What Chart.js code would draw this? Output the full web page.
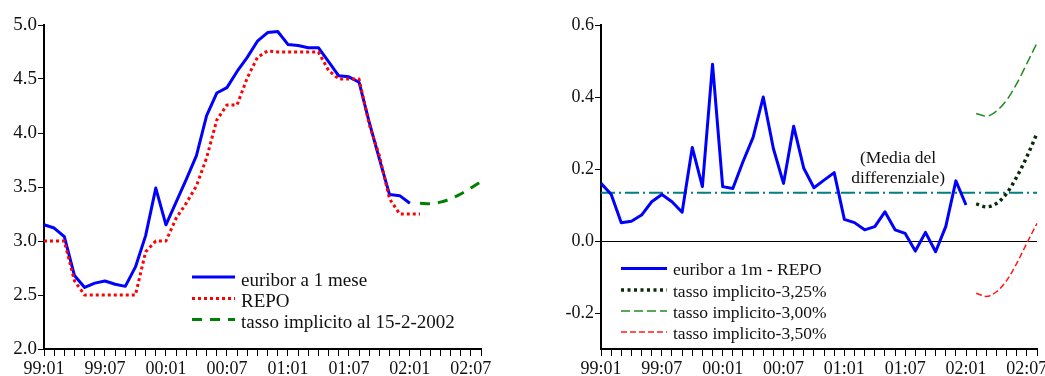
<!DOCTYPE html>
<html>
<head>
<meta charset="utf-8">
<script src="https://cdn.jsdelivr.net/npm/chart.js@4.4.1/dist/chart.umd.min.js"></script>
<style>
  html, body { margin: 0; padding: 0; background: #fff; }
  #wrap { position: relative; width: 1045px; height: 376px; overflow: hidden; background: #fff; }
  #wrap canvas { position: absolute; left: 0; top: 0; }
</style>
</head>
<body>
<div id="wrap">
  <canvas id="rates" width="1045" height="376"></canvas>
  <canvas id="spread" width="1045" height="376"></canvas>
</div>
<script>
// Monthly categories, 99:01 .. 02:08
const months = [
  '99:01','99:02','99:03','99:04','99:05','99:06','99:07','99:08','99:09','99:10','99:11','99:12',
  '00:01','00:02','00:03','00:04','00:05','00:06','00:07','00:08','00:09','00:10','00:11','00:12',
  '01:01','01:02','01:03','01:04','01:05','01:06','01:07','01:08','01:09','01:10','01:11','01:12',
  '02:01','02:02','02:03','02:04','02:05','02:06','02:07','02:08'
];
const tickLabels = ['99:01','99:07','00:01','00:07','01:01','01:07','02:01','02:07'];

// Left panel: rates (%), euribor 99:01 .. 02:01, REPO 99:01 .. 02:02
const euribor1m = [3.15, 3.12, 3.04, 2.68, 2.57, 2.61, 2.63, 2.60, 2.58, 2.76, 3.05, 3.49,
                   3.15, 3.36, 3.57, 3.79, 4.16, 4.37, 4.42, 4.57, 4.70, 4.85, 4.93, 4.94,
                   4.82, 4.81, 4.79, 4.79, 4.66, 4.53, 4.52, 4.47, 4.10, 3.76, 3.43, 3.42,
                   3.35];
const repo      = [3.00, 3.00, 3.00, 2.63, 2.50, 2.50, 2.50, 2.50, 2.50, 2.50, 2.90, 3.00,
                   3.00, 3.21, 3.35, 3.51, 3.77, 4.12, 4.26, 4.26, 4.51, 4.70, 4.76, 4.75,
                   4.75, 4.75, 4.75, 4.75, 4.58, 4.50, 4.50, 4.50, 4.08, 3.79, 3.39, 3.25,
                   3.25, 3.25];
// Implied rate as of 15-2-2002, 02:02 .. 02:08
const forwardStart = 37;
const impliedRate = [3.35, 3.345, 3.36, 3.39, 3.435, 3.49, 3.55];

// Right panel: spreads (percentage points)
const spreadEuriborRepo = [0.160, 0.130, 0.051, 0.055, 0.072, 0.109, 0.129, 0.109, 0.080, 0.260, 0.151, 0.491,
                           0.151, 0.146, 0.220, 0.288, 0.400, 0.257, 0.160, 0.319, 0.202, 0.148, 0.169, 0.190,
                           0.060, 0.051, 0.031, 0.040, 0.081, 0.031, 0.021, -0.028, 0.024, -0.030, 0.040, 0.167,
                           0.100];
const spreadImplied325 = [0.103, 0.095, 0.104, 0.132, 0.178, 0.234, 0.299];
const spreadImplied300 = [0.354, 0.347, 0.361, 0.391, 0.437, 0.493, 0.550];
const spreadImplied350 = [-0.145, -0.154, -0.141, -0.110, -0.062, -0.006, 0.049];
const spreadMean = 0.134;

const rateTicks = [2.0, 2.5, 3.0, 3.5, 4.0, 4.5, 5.0];
const spreadTicks = [-0.2, 0.0, 0.2, 0.4, 0.6];

// ---------------------------------------------------------------------------
const SERIF = "'Liberation Serif', 'Times New Roman', serif";
const INK = '#111';

function placed(values, start) {
  const out = months.map(() => null);
  values.forEach((v, k) => { out[start + k] = v; });
  return out;
}

function xAxis() {
  return {
    type: 'category',
    offset: false,
    afterFit(scale) { scale.height = 27; },
    border: { display: true, color: '#000', width: 2 },
    grid: { display: true, drawOnChartArea: false, drawTicks: true, tickLength: 7, color: '#000', tickColor: '#000', lineWidth: 1 },
    ticks: {
      autoSkip: false, maxRotation: 0, minRotation: 0, padding: 2,
      color: INK, font: { family: SERIF, size: 18 },
      callback(value, index) { return index % 6 === 0 ? tickLabels[index / 6] : ''; }
    }
  };
}

// Line key drawn inside the plot from each dataset's own stroke style
const lineKey = {
  id: 'lineKey',
  afterDraw(chart, args, opts) {
    const ctx = chart.ctx;
    ctx.save();
    ctx.font = opts.font;
    ctx.fillStyle = INK;
    ctx.textBaseline = 'alphabetic';
    ctx.textAlign = 'left';
    let row = 0;
    chart.data.datasets.forEach(ds => {
      if (!ds.label) return;
      const y = opts.rows[row++];
      ctx.strokeStyle = ds.borderColor;
      ctx.lineWidth = ds.borderWidth;
      ctx.lineCap = 'butt';
      ctx.setLineDash(ds.borderDash || []);
      ctx.beginPath();
      ctx.moveTo(opts.x0, y);
      ctx.lineTo(opts.x1, y);
      ctx.stroke();
      ctx.setLineDash([]);
      ctx.fillText(ds.label, opts.textX, y + opts.baseline);
    });
    ctx.restore();
  }
};

// Caption placed at a data position
const caption = {
  id: 'caption',
  afterDraw(chart, args, opts) {
    if (!opts.lines) return;
    const ctx = chart.ctx;
    const x = chart.scales.x.getPixelForValue(opts.at[0]);
    const y = chart.scales.y.getPixelForValue(opts.at[1]);
    ctx.save();
    ctx.font = opts.font;
    ctx.fillStyle = INK;
    ctx.textAlign = 'center';
    ctx.textBaseline = 'middle';
    opts.lines.forEach((t, k) => ctx.fillText(t, x, y + (k - (opts.lines.length - 1) / 2) * opts.lineHeight));
    ctx.restore();
  }
};

Chart.register(lineKey, caption);

const common = {
  responsive: false,
  animation: false,
  devicePixelRatio: 1,
  events: [],
  elements: { point: { radius: 0 }, line: { borderCapStyle: 'butt', borderJoinStyle: 'round' } }
};

// Left panel
new Chart(document.getElementById('rates'), {
  type: 'line',
  data: {
    labels: months,
    datasets: [
      { label: 'euribor a 1 mese', data: placed(euribor1m, 0), borderColor: '#0000ff', borderWidth: 3, order: 2, tension: 0 },
      { label: 'REPO', data: placed(repo, 0), borderColor: '#ff0000', borderWidth: 3, borderDash: [3, 3], order: 1, tension: 0 },
      { label: 'tasso implicito al 15-2-2002', data: placed(impliedRate, forwardStart), borderColor: '#008000', borderWidth: 3, borderDash: [10, 8], order: 0, cubicInterpolationMode: 'monotone' }
    ]
  },
  options: Object.assign({}, common, {
    layout: { padding: { top: 25, right: 1045 - 481, bottom: 0, left: 0 } },
    scales: {
      x: xAxis(),
      y: {
        min: 2, max: 5,
        afterFit(scale) { scale.width = 44; },
        afterBuildTicks(scale) { scale.ticks = rateTicks.map(v => ({ value: v })); },
        border: { display: true, color: '#000', width: 2 },
        grid: { display: true, drawOnChartArea: false, drawTicks: true, tickLength: 6, color: '#000', tickColor: '#000', lineWidth: 1 },
        ticks: { padding: 1, color: INK, font: { family: SERIF, size: 19 }, callback: v => Number(v).toFixed(1) }
      }
    },
    plugins: {
      legend: { display: false },
      tooltip: { enabled: false },
      lineKey: { font: `19px ${SERIF}`, x0: 192, x1: 235, textX: 241, rows: [277, 298.5, 319.5], baseline: 8.5 },
      caption: {}
    }
  })
});

// Right panel
new Chart(document.getElementById('spread'), {
  type: 'line',
  data: {
    labels: months,
    datasets: [
      { label: 'euribor a 1m - REPO', data: placed(spreadEuriborRepo, 0), borderColor: '#0000ff', borderWidth: 3, order: 0, tension: 0 },
      { label: 'tasso implicito-3,25%', data: placed(spreadImplied325, forwardStart), borderColor: '#0a2a0a', borderWidth: 3.5, borderDash: [3, 3.5], order: 1, cubicInterpolationMode: 'monotone' },
      { label: 'tasso implicito-3,00%', data: placed(spreadImplied300, forwardStart), borderColor: '#1e8c1e', borderWidth: 1.5, borderDash: [9, 4], order: 2, cubicInterpolationMode: 'monotone' },
      { label: 'tasso implicito-3,50%', data: placed(spreadImplied350, forwardStart), borderColor: '#ff1a1a', borderWidth: 1.5, borderDash: [6, 3], order: 3, cubicInterpolationMode: 'monotone' },
      { label: '', data: months.map(() => spreadMean), borderColor: '#008080', borderWidth: 2, borderDash: [14, 4, 2, 4], order: 4, tension: 0 }
    ]
  },
  options: Object.assign({}, common, {
    layout: { padding: { top: 25, right: 1045 - 1037, bottom: 0, left: 0 } },
    scales: {
      x: xAxis(),
      y: {
        min: -0.3, max: 0.6,
        afterFit(scale) { scale.width = 601; },
        afterBuildTicks(scale) { scale.ticks = spreadTicks.map(v => ({ value: v })); },
        border: { display: true, color: '#000', width: 2 },
        grid: {
          display: true, drawOnChartArea: true, drawTicks: true, tickLength: 6,
          color: c => (c.tick && Math.abs(c.tick.value) < 1e-9 ? '#000' : 'rgba(0,0,0,0)'),
          tickColor: '#000', lineWidth: 1
        },
        ticks: { padding: 1, color: INK, font: { family: SERIF, size: 18 }, callback: v => Number(v).toFixed(1) }
      }
    },
    plugins: {
      legend: { display: false },
      tooltip: { enabled: false },
      lineKey: { font: `17.5px ${SERIF}`, x0: 621, x1: 667, textX: 673, rows: [268.5, 290, 311, 332], baseline: 6.5 },
      caption: { lines: ['(Media del', 'differenziale)'], at: [29.3, 0.202], font: `17.5px ${SERIF}`, lineHeight: 20.5 }
    }
  })
});
</script>
</body>
</html>
